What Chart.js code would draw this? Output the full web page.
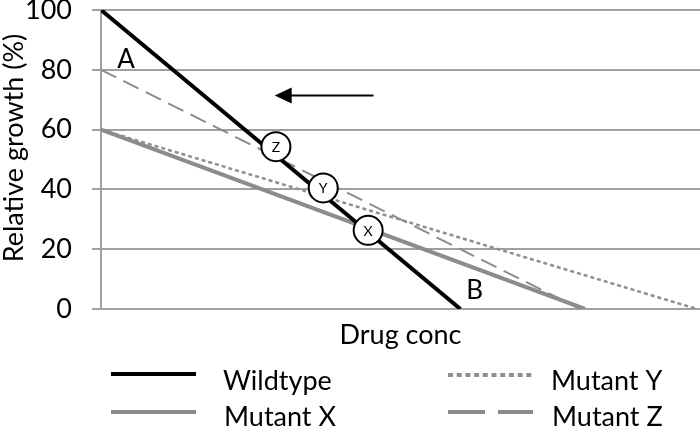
<!DOCTYPE html>
<html><head><meta charset="utf-8">
<script src="https://cdn.jsdelivr.net/npm/chart.js@4"></script>
<style>html,body{margin:0;padding:0;background:#fff}#wrap{width:700px;height:427px}</style>
</head><body><div id="wrap"><canvas id="c"></canvas></div>
<script>
const seriesNames = ["Wildtype", "Mutant X", "Mutant Y", "Mutant Z"];
const wildtypeConc = [0, 6.0];
const wildtypeGrowth = [100, 0];
const mutantXConc = [0, 8.08];
const mutantXGrowth = [60, 0];
const mutantYConc = [0, 9.95];
const mutantYGrowth = [60, 0];
const mutantZConc = [0, 8.0];
const mutantZGrowth = [80, 0];
const yTicks = [0, 20, 40, 60, 80, 100];

// circled crossing points
const markerLabels = ["Z", "Y", "X"];
const markerConc = [2.92, 3.71, 4.46];
const markerGrowth = [54.3, 40.5, 26.3];

const FONT = "Lato";
const pts = (xs, ys) => xs.map((x, i) => ({ x: x, y: ys[i] }));

const lineStyles = [
  { color: "#000000", width: 4, dash: [], legendDash: [] },
  { color: "#8c8c8c", width: 4, dash: [], legendDash: [] },
  { color: "#8f8f8f", width: 2.5, dash: [4, 3], legendDash: [5, 3.7] },
  { color: "#8c8c8c", width: 2, dash: [17, 8], legendDash: [37, 13] }
];

const extras = {
  id: "extras",
  afterDatasetsDraw(chart) {
    const { ctx, scales: { x, y } } = chart;
    ctx.save();
    ctx.fillStyle = "#000";
    ctx.font = "14px " + FONT;
    ctx.textAlign = "center";
    ctx.textBaseline = "middle";
    markerLabels.forEach((t, i) => {
      ctx.fillText(t, x.getPixelForValue(markerConc[i]), y.getPixelForValue(markerGrowth[i]) + 1);
    });

    // A / B labels
    ctx.font = "26px " + FONT;
    ctx.fillText("A", x.getPixelForValue(0.42), y.getPixelForValue(83.4));
    ctx.fillText("B", x.getPixelForValue(6.24), y.getPixelForValue(6));

    // arrow
    const ay = y.getPixelForValue(71.4);
    const x1 = x.getPixelForValue(4.55), x0 = x.getPixelForValue(2.9);
    ctx.strokeStyle = "#000";
    ctx.lineWidth = 2;
    ctx.beginPath();
    ctx.moveTo(x1, ay);
    ctx.lineTo(x0 + 14, ay);
    ctx.stroke();
    ctx.beginPath();
    ctx.moveTo(x0, ay);
    ctx.lineTo(x0 + 17, ay - 8);
    ctx.lineTo(x0 + 17, ay + 8);
    ctx.closePath();
    ctx.fill();

    // y axis title
    ctx.save();
    ctx.translate(14, 148);
    ctx.rotate(-Math.PI / 2);
    ctx.font = "27px " + FONT;
    ctx.fillText("Relative growth (%)", 0, 0);
    ctx.restore();

    // legend
    const items = [
      { i: 0, lx: 111, ly: 374, tx: 223, ty: 390 },
      { i: 1, lx: 111, ly: 412, tx: 224, ty: 426 },
      { i: 2, lx: 448, ly: 375, tx: 551, ty: 390 },
      { i: 3, lx: 448, ly: 412, tx: 552, ty: 426 }
    ];
    ctx.font = "27px " + FONT;
    ctx.textAlign = "left";
    ctx.textBaseline = "alphabetic";
    items.forEach(it => {
      const s = lineStyles[it.i];
      ctx.strokeStyle = s.color;
      ctx.lineWidth = 4;
      ctx.setLineDash(s.legendDash);
      ctx.beginPath();
      ctx.moveTo(it.lx, it.ly);
      ctx.lineTo(it.lx + 85, it.ly);
      ctx.stroke();
      ctx.setLineDash([]);
      ctx.fillText(seriesNames[it.i], it.tx, it.ty);
    });
    ctx.restore();
  }
};

const lineSet = (label, data, s, order) => ({
  type: "line", label: label, data: data, order: order,
  borderColor: s.color, borderWidth: s.width, borderDash: s.dash,
  pointRadius: 0, fill: false, tension: 0
});

new Chart(document.getElementById("c"), {
  type: "scatter",
  data: {
    datasets: [
      {
        label: "markers", order: 0,
        data: pts(markerConc, markerGrowth),
        pointRadius: 14.5, pointBackgroundColor: "#fff",
        pointBorderColor: "#000", pointBorderWidth: 2
      },
      lineSet(seriesNames[0], pts(wildtypeConc, wildtypeGrowth), lineStyles[0], 1),
      lineSet(seriesNames[1], pts(mutantXConc, mutantXGrowth), lineStyles[1], 2),
      lineSet(seriesNames[2], pts(mutantYConc, mutantYGrowth), lineStyles[2], 3),
      lineSet(seriesNames[3], pts(mutantZConc, mutantZGrowth), lineStyles[3], 4)
    ]
  },
  options: {
    responsive: true,
    maintainAspectRatio: false,
    animation: false,
    layout: { autoPadding: false, padding: { top: 10, right: 0, bottom: 76, left: 0 } },
    plugins: { legend: { display: false }, tooltip: { enabled: false } },
    scales: {
      x: {
        type: "linear", min: 0, max: 10,
        grid: { display: false }, border: { display: false },
        ticks: { display: false },
        title: { display: true, text: "Drug conc", color: "#000",
          font: { family: FONT, size: 27 }, padding: { top: 0, bottom: 0 } },
        afterFit(s) { s.height = 42; s.paddingLeft = 0; s.paddingRight = 0; }
      },
      y: {
        min: 0, max: 100,
        afterBuildTicks(s) { s.ticks = yTicks.map(v => ({ value: v })); },
        ticks: { color: "#000", padding: 20, font: { family: FONT, size: 27, lineHeight: 0.8 } },
        grid: { color: "#a0a0a0", lineWidth: 2, tickLength: 9 },
        border: { color: "#a0a0a0", width: 2 },
        afterFit(s) { s.width = 101; s.paddingTop = 0; s.paddingBottom = 0; }
      }
    }
  },
  plugins: [extras]
});
</script>
</body></html>
